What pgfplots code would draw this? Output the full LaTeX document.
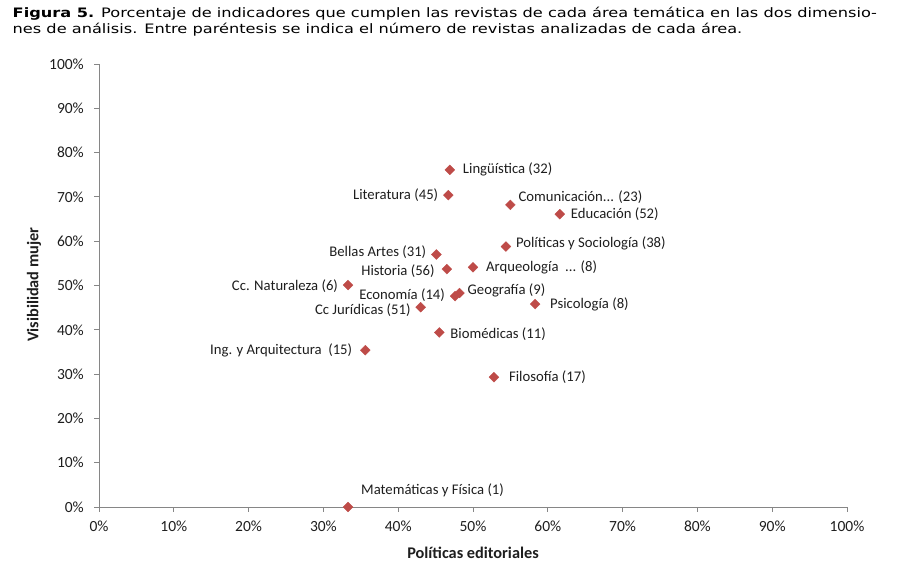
\documentclass[border=0pt]{standalone}
\usepackage{pgfplots}
\pgfplotsset{compat=1.18}
\usepackage{fontspec}
\setmainfont{Carlito}
\newfontfamily\capfont[FakeStretch=1.245]{DejaVu Sans}
\definecolor{markred}{HTML}{BE4B48}
\definecolor{axgray}{HTML}{868686}
\definecolor{txt}{HTML}{1E1E1E}

\pgfplotsset{
  mk/.style={only marks, mark=square*, mark size=3.5bp,
    mark options={rotate=45, fill=markred, draw=markred, line width=0.3pt},
    every node near coord/.append style={inner sep=0pt, font=\fontsize{14.7bp}{17bp}\selectfont, text=txt}},
}
% \pt{x}{y}{anchor}{dx}{dy}{label}
\newcommand\pt[6]{\addplot[mk, nodes near coords={#6},
  every node near coord/.append style={anchor=#3, xshift=#4bp, yshift=#5bp}]
  coordinates {(#1,#2)};}

\begin{document}
\begin{tikzpicture}
\path[use as bounding box] (0,0) rectangle (898bp,573bp);
\node[anchor=base west, inner sep=0pt, font=\capfont\fontsize{13bp}{17bp}\selectfont] at (12.5bp,555.3bp)
  {\textbf{Figura 5.} Porcentaje de indicadores que cumplen las revistas de cada área temática en las dos dimensio-};
\node[anchor=base west, inner sep=0pt, font=\capfont\fontsize{13bp}{17bp}\selectfont] at (12.5bp,539bp)
  {nes de análisis. Entre paréntesis se indica el número de revistas analizadas de cada área.};
\begin{axis}[
  at={(99bp,66bp)}, anchor=south west,
  scale only axis, width=748bp, height=443bp,
  xmin=0, xmax=100, ymin=0, ymax=100,
  clip=false,
  axis lines*=left,
  axis line style={draw=axgray, line width=0.8pt, -},
  tick style={draw=axgray, line width=0.8pt},
  tick align=outside,
  major tick length=5bp,
  xtick={0,10,...,100}, ytick={0,10,...,100},
  xticklabels={0\%,10\%,20\%,30\%,40\%,50\%,60\%,70\%,80\%,90\%,100\%},
  yticklabels={0\%,10\%,20\%,30\%,40\%,50\%,60\%,70\%,80\%,90\%,100\%},
  ticklabel style={font=\fontsize{15.5bp}{18bp}\selectfont, text=txt, inner sep=0pt},
  xticklabel style={anchor=north, yshift=-9bp},
  yticklabel style={anchor=east, xshift=-10bp},
  xlabel={Políticas editoriales},
  ylabel={Visibilidad mujer},
  every axis x label/.style={at={(axis description cs:0.5,-0.104)}, anchor=center, font=\bfseries\fontsize{16.3bp}{19bp}\selectfont, text=txt},
  every axis y label/.style={at={(axis description cs:-0.087,0.502)}, rotate=90, anchor=center, font=\bfseries\fontsize{16.3bp}{19bp}\selectfont, text=txt},
]
\pt{46.9}{76.1}{west}{13}{0}{Lingüística (32)}
\pt{46.7}{70.4}{east}{-10}{0}{Literatura (45)}
\pt{55.0}{68.2}{west}{8}{8}{Comunicación... (23)}
\pt{61.6}{66.1}{west}{11}{0}{Educación (52)}
\pt{54.4}{58.8}{west}{10}{3}{Políticas y Sociología (38)}
\pt{45.1}{57.0}{east}{-10}{2}{Bellas Artes (31)}
\pt{46.5}{53.7}{east}{-12}{-2}{Historia (56)}
\pt{50.0}{54.1}{west}{13}{0}{Arqueología~ ... (8)}
\pt{33.3}{50.1}{east}{-10}{-1}{Cc. Naturaleza (6)}
\pt{47.6}{47.6}{east}{-10}{1}{Economía (14)}
\pt{48.2}{48.3}{west}{8}{3}{Geografía (9)}
\pt{43.0}{45.1}{east}{-10}{-3}{Cc Jurídicas (51)}
\pt{58.3}{45.8}{west}{15}{0}{Psicología (8)}
\pt{45.5}{39.4}{west}{11}{-2}{Biomédicas (11)}
\pt{35.6}{35.4}{east}{-13}{0}{Ing. y Arquitectura~ (15)}
\pt{52.8}{29.3}{west}{15}{0}{Filosofía (17)}
\pt{33.3}{0.0}{west}{13}{17}{Matemáticas y Física (1)}
\end{axis}
\end{tikzpicture}
\end{document}
